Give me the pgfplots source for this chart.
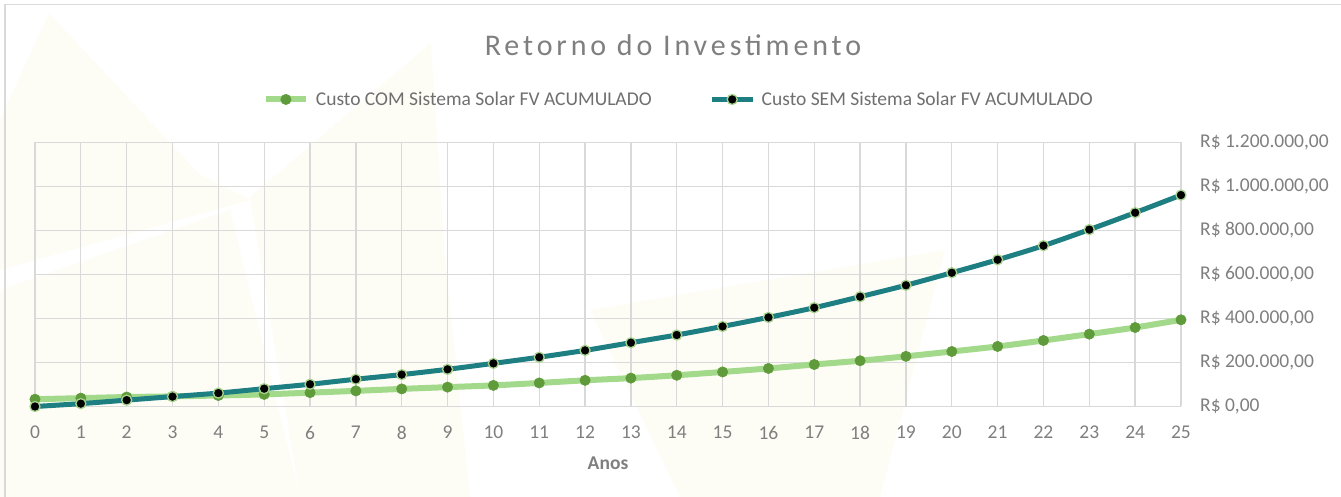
\documentclass[border=0pt]{standalone}
\usepackage{fontspec}
\setmainfont{Carlito}
\newfontfamily\titlefont[LetterSpace=13]{Carlito}
\usepackage{pgfplots}
\pgfplotsset{compat=1.18}
\definecolor{tealc}{HTML}{1E7F82}
\definecolor{lgreen}{HTML}{A3D98B}
\definecolor{mgreen}{HTML}{5F9B3A}
\definecolor{moutline}{HTML}{A9D18E}
\definecolor{gridc}{HTML}{D9D9D9}
\definecolor{textc}{HTML}{7F7F7F}
\definecolor{legc}{HTML}{6F6F6F}
\definecolor{wm}{RGB}{253,253,246}
\definecolor{borderc}{HTML}{D9D9D9}
\begin{document}
\begin{tikzpicture}[x=1pt,y=1pt]
\useasboundingbox (0,0) rectangle (1341,497);
\fill[white] (0,0) rectangle (1341,497);
% faint watermark shapes (image coordinates)
\begin{scope}[yshift=497pt, yscale=-1]
\fill[wm] (49,13) -- (200,175) -- (250,200) -- (0,270) -- (0,120) -- cycle;
\fill[wm] (0,290) -- (230,210) -- (300,497) -- (0,497) -- cycle;
\fill[wm] (431,43) -- (250,197) -- (300,497) -- (470,497) -- (445,260) -- cycle;
\fill[wm] (590,310) -- (945,250) -- (880,497) -- (680,497) -- cycle;
\end{scope}
\draw[borderc, line width=1.2pt] (5,0) -- (5,492.5) -- (1341,492.5);
\node[font=\titlefont\fontsize{30}{34}\selectfont, text=textc] at (673,452) {Retorno do Investimento};
\begin{axis}[
  at={(35pt,90.5pt)}, anchor=south west,
  scale only axis, width=1146pt, height=264pt,
  xmin=0, xmax=25, ymin=0, ymax=1200000,
  xtick={0,...,25},
  ytick={0,200000,400000,600000,800000,1000000,1200000},
  yticklabels={{R\$ 0,00},{R\$ 200.000,00},{R\$ 400.000,00},{R\$ 600.000,00},{R\$ 800.000,00},{R\$ 1.000.000,00},{R\$ 1.200.000,00}},
  scaled y ticks=false,
  yticklabel pos=right,
  /pgf/number format/assume math mode=true,
  grid=major,
  major grid style={gridc, line width=1.3pt},
  axis line style={draw=none},
  tick style={draw=none},
  major tick length=0pt,
  ticklabel style={font=\fontsize{19.5}{22}\selectfont, text=textc, inner sep=0pt},
  xticklabel style={anchor=north, yshift=-19.5pt},
  yticklabel style={anchor=west, xshift=19pt},
  xlabel={\textbf{Anos}},
  xlabel style={at={(axis description cs:0.5,0)}, anchor=center, yshift=-56.5pt, font=\fontsize{19.5}{22}\selectfont, text=textc, inner sep=0pt},
  legend columns=2,
  legend style={at={(0.561,1.163)}, anchor=center, draw=none, fill=none,
    font=\fontsize{19.5}{22}\selectfont, text=legc,
    /tikz/every odd column/.append style={column sep=7pt},
    /tikz/every even column/.append style={column sep=58pt},
    nodes={inner sep=0pt}},
  legend cell align=left,
  legend image code/.code={\draw[#1, mark repeat=2, mark phase=2] plot coordinates {(0pt,0pt) (20pt,0pt) (40pt,0pt)};},
  clip=false,
]
\addplot[lgreen, line width=6pt, smooth, mark=*, mark size=5.2pt, mark options={fill=mgreen, draw=mgreen, line width=0.5pt}] coordinates {
(0,33000) (1,38000) (2,43000) (3,46000) (4,50000) (5,55000) (6,63000) (7,71000) (8,80000) (9,88000) (10,96000) (11,107000) (12,119000) (13,129000) (14,142000) (15,157000) (16,173000) (17,191000) (18,208000) (19,228000) (20,250000) (21,273000) (22,300000) (23,329000) (24,359000) (25,394000)};
\addlegendentry{Custo COM Sistema Solar FV ACUMULADO}
\addplot[tealc, line width=5pt, smooth, mark=*, mark size=5pt, mark options={fill=black, draw=moutline, line width=1.3pt}] coordinates {
(0,0) (1,13000) (2,29000) (3,45000) (4,61000) (5,81000) (6,101000) (7,124000) (8,145000) (9,169000) (10,196000) (11,224000) (12,255000) (13,290000) (14,325000) (15,364000) (16,405000) (17,449000) (18,499000) (19,551000) (20,608000) (21,667000) (22,731000) (23,804000) (24,881000) (25,961000)};
\addlegendentry{Custo SEM Sistema Solar FV ACUMULADO}
\end{axis}
\end{tikzpicture}
\end{document}
